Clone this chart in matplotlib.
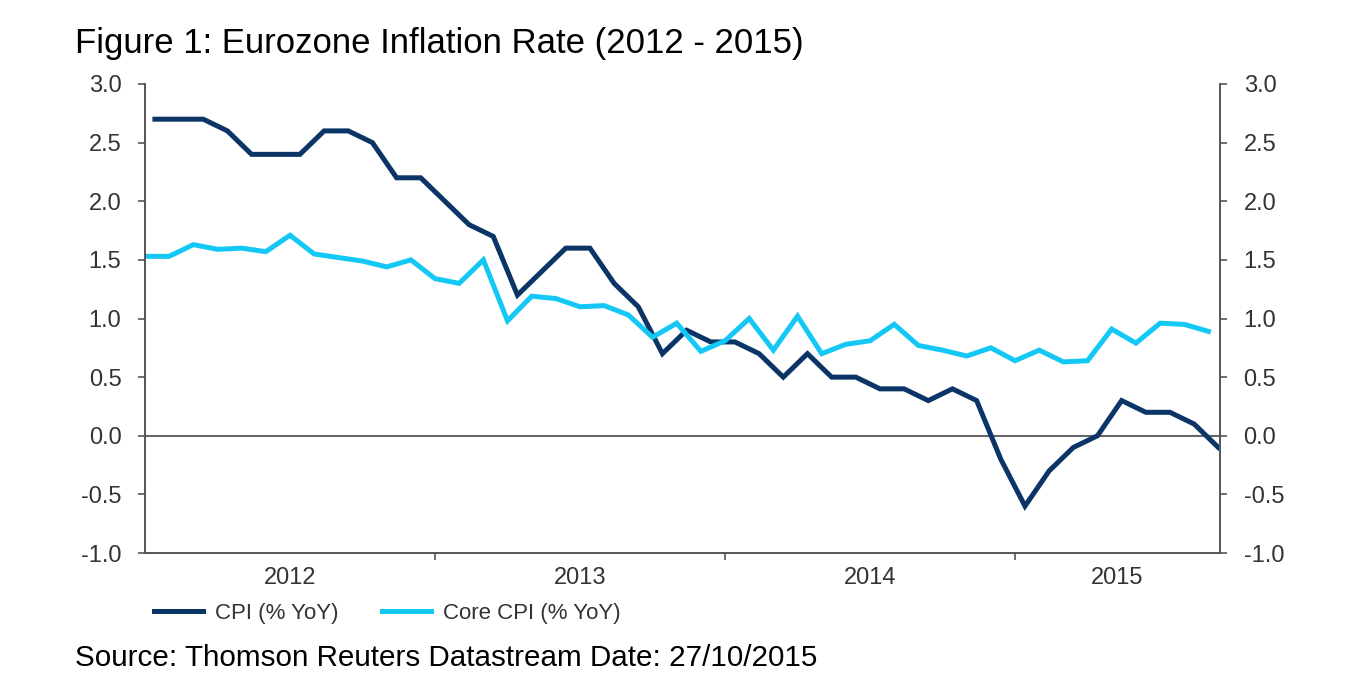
import matplotlib
matplotlib.use('Agg')
import matplotlib.pyplot as plt
import numpy as np

plt.rcParams['font.family'] = ['Liberation Sans', 'DejaVu Sans']

# monthly values, Jan 2012 - Sep 2015
cpi = [2.7, 2.7, 2.7, 2.6, 2.4, 2.4, 2.4, 2.6, 2.6, 2.5, 2.2, 2.2,
       2.0, 1.8, 1.7, 1.2, 1.4, 1.6, 1.6, 1.3, 1.1, 0.7, 0.9, 0.8,
       0.8, 0.7, 0.5, 0.7, 0.5, 0.5, 0.4, 0.4, 0.3, 0.4, 0.3, -0.2,
       -0.6, -0.3, -0.1, 0.0, 0.3, 0.2, 0.2, 0.1, -0.1]
core_cpi = [1.53, 1.53, 1.63, 1.59, 1.60, 1.57, 1.71, 1.55, 1.52, 1.49, 1.44, 1.50,
            1.34, 1.30, 1.50, 0.98, 1.19, 1.17, 1.10, 1.11, 1.03, 0.84, 0.96, 0.72,
            0.81, 1.00, 0.73, 1.02, 0.70, 0.78, 0.81, 0.95, 0.77, 0.73, 0.68, 0.75,
            0.64, 0.73, 0.63, 0.64, 0.91, 0.79, 0.96, 0.95, 0.89]
years = ['2012', '2013', '2014', '2015']

navy = '#0b3566'
cyan = '#14c8f5'
grey = '#555555'
txt = '#333333'

# core series sits on month starts, headline cpi is plotted ~mid-month
x_core = np.arange(len(core_cpi))
x_cpi = np.arange(len(cpi)) + 0.41
x_end = 44.48

fig = plt.figure(figsize=(13.62, 6.98), dpi=100)
ax = fig.add_axes([145/1362, 1-553/698, (1220-145)/1362, (553-84)/698])

ax.plot(x_cpi, cpi, color=navy, lw=3.6, label='CPI (% YoY)', solid_joinstyle='miter')
ax.plot(x_core, core_cpi, color=cyan, lw=3.6, label='Core CPI (% YoY)', solid_joinstyle='miter')
ax.axhline(0, color='#666666', lw=1.5, zorder=1)

ax.set_xlim(0, x_end)
ax.set_ylim(-1.0, 3.0)

# y axes on both sides
yt = np.arange(-1.0, 3.01, 0.5)
ax.set_yticks(yt)
ax.set_yticklabels(['%.1f' % v for v in yt])
ax.tick_params(axis='y', which='both', left=True, right=True, labelleft=True, labelright=True,
               direction='out', length=5, width=1.2, color=grey, labelsize=17, labelcolor=txt, pad=12)

# year boundaries as ticks, year names centred between them
ax.set_xticks([12, 24, 36])
ax.set_xticklabels([])
ax.tick_params(axis='x', direction='out', length=5, width=1.2, color=grey)
bounds = [0, 12, 24, 36, x_end]
for i, y in enumerate(years):
    ax.text((bounds[i] + bounds[i+1]) / 2, -1.0 - 25/117, y, ha='center', va='center',
            fontsize=17, color=txt)

for s in ['left', 'right', 'bottom']:
    ax.spines[s].set_color(grey)
    ax.spines[s].set_linewidth(1.4)
ax.spines['top'].set_visible(False)

ax.legend(loc='center left', bbox_to_anchor=(154/1362, 1-613/698), bbox_transform=fig.transFigure,
          ncol=2, frameon=False, fontsize=16, handlelength=2.2, handletextpad=0.55,
          columnspacing=1.95, borderaxespad=0, borderpad=0, labelcolor=txt)

fig.text(75/1362, 1-43/698, 'Figure 1: Eurozone Inflation Rate (2012 - 2015)', fontsize=25,
         va='center', ha='left', color='black')
fig.text(75/1362, 1-658/698, 'Source: Thomson Reuters Datastream Date: 27/10/2015', fontsize=21.3,
         va='center', ha='left', color='black')

fig.savefig('out.png', dpi=100, facecolor='white')
